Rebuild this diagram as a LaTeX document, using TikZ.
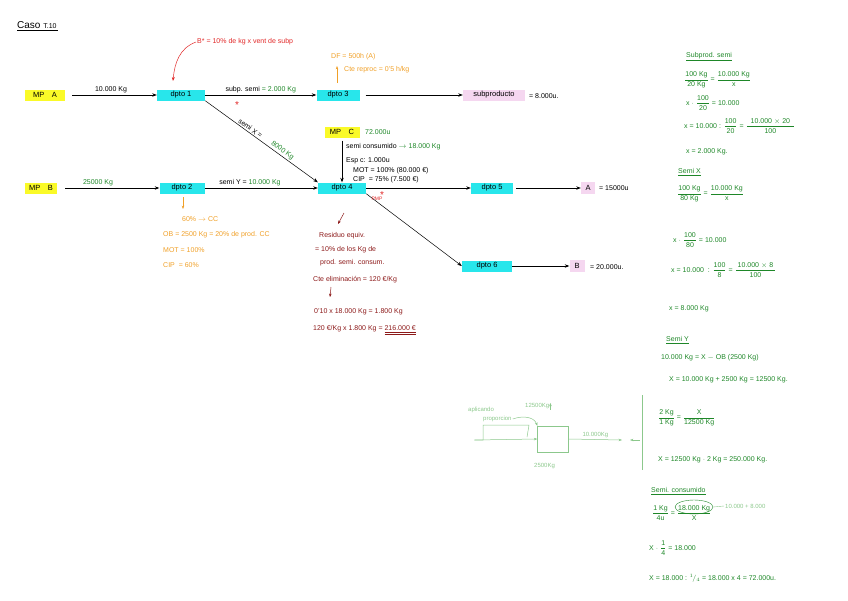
\documentclass[tikz,border=0pt]{standalone}
\usepackage{amsmath}
\usepackage{fontspec}
\setmainfont{Liberation Sans}
\usetikzlibrary{arrows.meta,calc,shapes.geometric}
\definecolor{cyanbox}{RGB}{40,230,235}
\definecolor{yelbox}{RGB}{250,250,40}
\definecolor{pinkbox}{RGB}{245,215,240}
\definecolor{grn}{RGB}{30,135,40}
\definecolor{lgrn}{RGB}{140,200,140}
\definecolor{org}{RGB}{240,160,40}
\definecolor{rd}{RGB}{225,40,40}
\definecolor{mrn}{RGB}{140,25,25}
\newcommand{\fr}[2]{\ensuremath{\dfrac{\text{#1}}{\text{#2}}}}
\tikzset{flow/.style={-{Stealth[length=1.6mm]},line width=.5pt},
         box/.style={inner sep=1pt,minimum height=11pt,font=\fontsize{7.5}{8}\selectfont},
         dpto/.style={box,fill=cyanbox},
         mp/.style={box,fill=yelbox},
         prod/.style={box,fill=pinkbox},
         lbl/.style={inner sep=1.5pt,font=\fontsize{7}{8}\selectfont},
         txt/.style={anchor=west,inner sep=1pt,font=\fontsize{7}{8}\selectfont},
         calc/.style={txt,text=grn}}

\begin{document}
\begin{tikzpicture}[x=1pt,y=-1pt]
  \useasboundingbox (0,0) rectangle (848,600);
  \node[txt,font=\fontsize{10}{11}\selectfont] (titulo) at (16,26) {\underline{Caso {\scriptsize T.10}\,}};

  % fila A
  \node[mp,minimum width=40pt]   (mpA)   at (45,95)  {MP\quad A};
  \node[dpto,minimum width=48pt] (dpto1) at (181,95) {dpto 1};
  \node[dpto,minimum width=43pt] (dpto3) at (338,95) {dpto 3};
  \node[prod,minimum width=62pt] (subp)  at (494,95) {subproducto};
  \node[txt] (nsubp) at (528,96) {= 8.000u.};
  \draw[flow,shorten <=7pt] (mpA) -- node[above,lbl]{10.000 Kg} (dpto1);
  \draw[flow] (dpto1) -- node[above,lbl]{subp. semi \textcolor{grn}{= 2.000 Kg}} (dpto3);
  \draw[flow,shorten <=6pt] (dpto3) -- (subp);

  % fila B
  \node[mp,minimum width=32pt]   (mpB)   at (41,188)  {MP\quad B};
  \node[dpto,minimum width=45pt] (dpto2) at (182,188) {dpto 2};
  \node[dpto,minimum width=48pt] (dpto4) at (342,188) {dpto 4};
  \node[dpto,minimum width=42pt] (dpto5) at (492,188) {dpto 5};
  \node[prod,minimum width=14pt,minimum height=12pt] (prA) at (588,188) {A};
  \node[txt] (nA) at (598,188) {= 15000u};
  \draw[flow,shorten <=8pt] (mpB) -- node[above,lbl,pos=.4]{\textcolor{grn}{25000 Kg}} (dpto2);
  \draw[flow] (dpto2) -- node[above,lbl,pos=.4]{semi Y = \textcolor{grn}{10.000 Kg}} (dpto4);
  \draw[flow] (dpto4) -- (dpto5);
  \draw[flow,shorten <=3pt] (dpto5) -- (prA);
  \draw[flow] (dpto1.south east) -- node[sloped,above,lbl,pos=.38]{semi X =}
    node[sloped,above,lbl,pos=.66,text=grn]{8000 Kg} (dpto4.north west);

  % fila dpto 6
  \node[dpto,minimum width=50pt] (dpto6) at (487,266) {dpto 6};
  \node[prod,minimum width=15pt,minimum height=12pt] (prB) at (577,266) {B};
  \node[txt] (nB) at (589,267) {= 20.000u.};
  \draw[flow] (dpto4.south east) -- (dpto6.west);
  \draw[flow] (dpto6) -- (prB);

  % MP C
  \node[mp,minimum width=35pt] (mpC) at (342,132) {MP\quad C};
  \node[calc] (nmpC) at (364,132) {72.000u};
  \draw[flow,shorten <=3pt] (mpC) -- (dpto4);
  \node[txt] (consum) at (345,147) {semi consumido \textcolor{grn}{$\to$ 18.000 Kg}};
  \node[txt] (espc) at (345,161) {Esp c: 1.000u};
  \node[txt] (mot4) at (352,171) {MOT = 100\% (80.000 €)};
  \node[txt] (cip4) at (352,180) {CIP\ \ = 75\% (7.500 €)};
  \node[lbl,text=rd,font=\fontsize{5}{6}\selectfont] (pmp) at (377,199) {PMP};
  \node[lbl,text=rd,font=\fontsize{10}{10}\selectfont] (ast4) at (382,195) {*};
  \node[lbl,text=rd,font=\fontsize{10}{10}\selectfont] (ast1) at (237,105) {*};

  % notas rojas / naranjas
  \node[txt,text=rd] (bnota) at (196,42) {B* = 10\% de kg x vent de subp};
  \coordinate (bfin) at (173,81);
  \draw[rd,-{Stealth[length=1.4mm]},line width=.5pt] (bnota.west) to[out=200,in=85] (bfin);
  \node[txt,text=org] (df3) at (330,57) {DF = 500h (A)};
  \node[txt,text=org] (cte3) at (343,70) {Cte reproc = 0'5 h/kg};
  \coordinate (d3up) at (337,83);
  \draw[org,-{Stealth[length=1.2mm]},line width=.5pt] (d3up) -- (337,66);
  \coordinate (d2dn) at (183,197);
  \draw[org,-{Stealth[length=1.2mm]},line width=.5pt] (d2dn) -- (183,209);
  \node[txt,text=org] (cc2) at (181,219) {60\% $\to$ CC};
  \node[txt,text=org] (ob2) at (162,235) {OB = 2500 Kg = 20\% de prod. CC};
  \node[txt,text=org] (mot2) at (162,250) {MOT = 100\%};
  \node[txt,text=org] (cip2) at (162,265) {CIP\ \ = 60\%};

  % residuo (granate)
  \coordinate (r4a) at (344,213);
  \draw[mrn,-{Stealth[length=1.2mm]},line width=.5pt] (r4a) -- (338,224);
  \node[txt,text=mrn] (res1) at (318,236) {Residuo equiv.};
  \node[txt,text=mrn] (res2) at (314,250) {= 10\% de los Kg de};
  \node[txt,text=mrn] (res3) at (319,263) {prod. semi. consum.};
  \node[txt,text=mrn] (res4) at (312,280) {Cte eliminación = 120 €/Kg};
  \coordinate (r4b) at (331,287);
  \draw[mrn,-{Stealth[length=1.2mm]},line width=.5pt] (r4b) -- (330,297);
  \node[txt,text=mrn] (res5) at (313,312) {0'10 x 18.000 Kg = 1.800 Kg};
  \node[txt,text=mrn] (res6) at (312,330) {120 €/Kg x 1.800 Kg = \underline{\underline{216.000 €}}};

  % boceto (verde claro)
  \node[txt,text=lgrn,font=\fontsize{6}{7}\selectfont] (apl) at (467,410) {aplicando};
  \node[txt,text=lgrn,font=\fontsize{6}{7}\selectfont] (prop) at (482,419) {proporcion};
  \node[draw=lgrn,line width=.5pt,minimum width=31pt,minimum height=26pt] (sq) at (553,439) {};
  \draw[lgrn,line width=.5pt] (475,440) -- (483,440) -- (483,425) -- (529,425) -- (527,437);
  \coordinate (sqin) at (474,440);
  \draw[lgrn,-{Stealth[length=1.2mm]},line width=.5pt] (sqin) -- (sq.west);
  \draw[lgrn,-{Stealth[length=1.2mm]},line width=.5pt] (prop.east) to[out=20,in=110] (sq.north west);
  \node[txt,text=lgrn,font=\fontsize{6}{7}\selectfont] (k125) at (524,406) {12500Kg};
  \draw[lgrn,-{Stealth[length=1.2mm]},line width=.5pt] (k125.south east) -- ++(0,-7);
  \node[txt,text=lgrn,font=\fontsize{6}{7}\selectfont] (k25) at (533,466) {2500Kg};
  \coordinate (sqout) at (622,440);
  \draw[lgrn,-{Stealth[length=1.2mm]},line width=.5pt] (sq.east) -- node[above,lbl,font=\fontsize{6}{7}\selectfont]{10.000Kg} (sqout);
  \draw[lgrn,line width=.5pt] (642,395) -- (642,470);
  \coordinate (flch) at (640,440);
  \draw[lgrn,-{Stealth[length=1.2mm]},line width=.5pt] (flch) -- (630,440);

  % calculos: subprod. semi
  \node[calc] (h1) at (685,57) {\underline{Subprod. semi}};
  \node[calc] (c11) at (683,80) {\fr{100 Kg}{20 Kg} = \fr{10.000 Kg}{x}};
  \node[calc] (c12) at (685,103) {x $\cdot$ \fr{100}{20} = 10.000};
  \node[calc] (c13) at (683,126) {x = 10.000 : \fr{100}{20} = \fr{\ \ 10.000 $\times$ 20\ \ }{100}};
  \node[calc] (c14) at (685,152) {x = 2.000 Kg.};
  % semi X
  \node[calc] (h2) at (677,172) {\underline{Semi X}};
  \node[calc] (c21) at (676,194) {\fr{100 Kg}{80 Kg} = \fr{10.000 Kg}{x}};
  \node[calc] (c22) at (672,240) {x $\cdot$ \fr{100}{80} = 10.000};
  \node[calc] (c23) at (670,270) {x = 10.000\ \ : \fr{100}{8} = \fr{\ 10.000 $\times$ 8\ }{100}};
  \node[calc] (c24) at (668,309) {x = 8.000 Kg};
  % semi Y
  \node[calc] (h3) at (665,340) {\underline{Semi Y}};
  \node[calc] (c31) at (660,358) {10.000 Kg = X $-$ OB (2500 Kg)};
  \node[calc] (c32) at (668,380) {X = 10.000 Kg + 2500 Kg = 12500 Kg.};
  \node[calc] (c33) at (657,418) {\fr{2 Kg}{1 Kg} = \fr{\quad X\quad }{12500 Kg}};
  \node[calc] (c34) at (657,460) {X = 12500 Kg $\cdot$ 2 Kg = 250.000 Kg.};
  % semi consumido
  \node[calc] (h4) at (650,491) {\underline{Semi. consumido}};
  \node[calc] (c41) at (651,513) {\fr{1 Kg}{4u} = \fr{18.000 Kg}{X}};
  \node[ellipse,draw=grn,line width=.4pt,minimum width=38pt,minimum height=14pt] (circ) at (694,507) {};
  \node[txt,text=lgrn,font=\fontsize{6}{7}\selectfont] (suma) at (724,506) {10.000 + 8.000};
  \draw[lgrn,line width=.4pt] (circ.east) -- (suma.west);
  \node[calc] (c42) at (648,548) {X $\cdot$ \fr{1}{4} = 18.000};
  \node[calc] (c43) at (648,578) {X = 18.000 : $^1\!/_4$ = 18.000 x 4 = 72.000u.};
\end{tikzpicture}
\end{document}
